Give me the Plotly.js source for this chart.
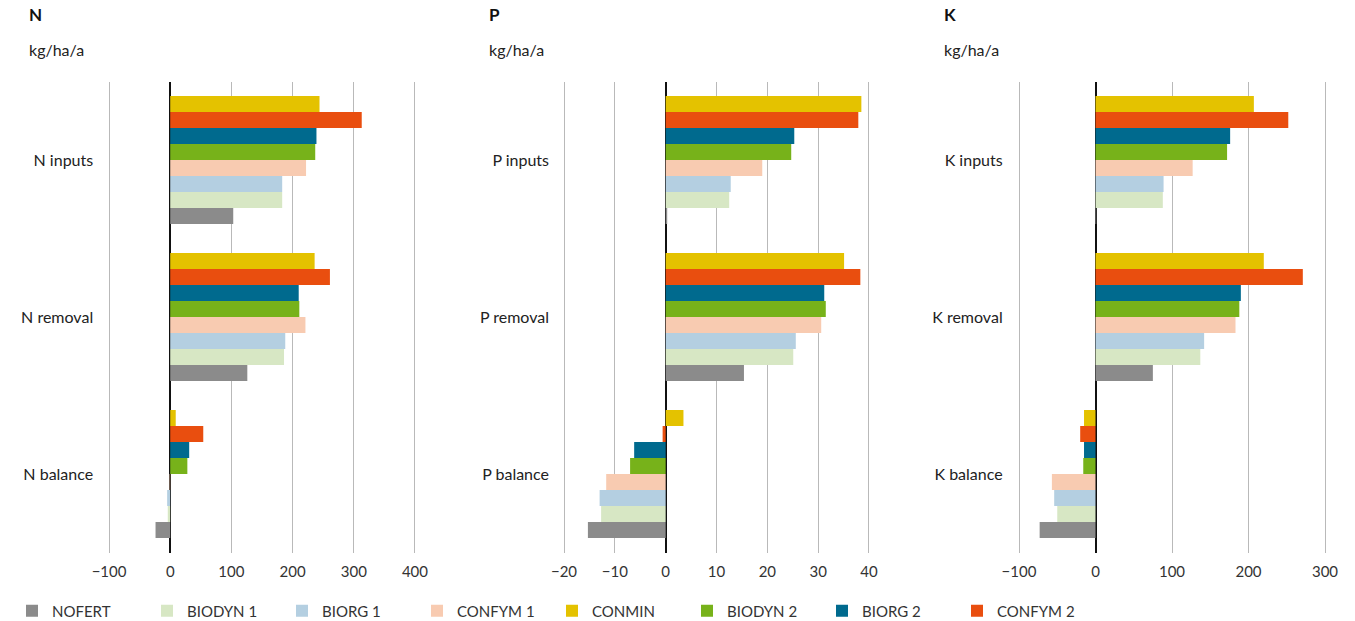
<!DOCTYPE html>
<html>
<head>
<meta charset="utf-8">
<script src="https://cdn.plot.ly/plotly-3.0.1.min.js"></script>
<style>
  html, body { margin: 0; padding: 0; background: #fff; }
  #chart { width: 1355px; height: 621px; }
</style>
</head>
<body>
<div id="chart"></div>
<script>
// Nutrient budgets per treatment, kg/ha/a
const treatments = ['CONMIN', 'CONFYM 2', 'BIORG 2', 'BIODYN 2', 'CONFYM 1', 'BIORG 1', 'BIODYN 1', 'NOFERT'];
const legendOrder = ['NOFERT', 'BIODYN 1', 'BIORG 1', 'CONFYM 1', 'CONMIN', 'BIODYN 2', 'BIORG 2', 'CONFYM 2'];
const colors = {
  'NOFERT': '#8b8b8b',
  'BIODYN 1': '#d7e7c4',
  'BIORG 1': '#b4cfe1',
  'CONFYM 1': '#f8cbb1',
  'CONMIN': '#e4c200',
  'BIODYN 2': '#77b21a',
  'BIORG 2': '#006a8e',
  'CONFYM 2': '#e94e0f'
};

const nCategories = ['N inputs', 'N removal', 'N balance'];
const pCategories = ['P inputs', 'P removal', 'P balance'];
const kCategories = ['K inputs', 'K removal', 'K balance'];

// values per treatment: [inputs, removal, balance]
const nValues = {
  'CONMIN':   [244, 236, 9],
  'CONFYM 2': [313, 261, 54],
  'BIORG 2':  [239, 210, 31],
  'BIODYN 2': [237, 211, 28],
  'CONFYM 1': [222, 221, -1],
  'BIORG 1':  [183, 188, -5],
  'BIODYN 1': [183, 186, -4],
  'NOFERT':   [103, 126, -24]
};
const pValues = {
  'CONMIN':   [38.5, 35.1, 3.5],
  'CONFYM 2': [37.9, 38.3, -0.6],
  'BIORG 2':  [25.3, 31.2, -6.2],
  'BIODYN 2': [24.7, 31.5, -7.0],
  'CONFYM 1': [19.0, 30.6, -11.7],
  'BIORG 1':  [12.8, 25.6, -13.0],
  'BIODYN 1': [12.5, 25.1, -12.7],
  'NOFERT':   [0.3, 15.4, -15.3]
};
const kValues = {
  'CONMIN':   [207, 220, -15],
  'CONFYM 2': [252, 271, -20],
  'BIORG 2':  [176, 190, -15],
  'BIODYN 2': [172, 188, -16],
  'CONFYM 1': [127, 183, -57],
  'BIORG 1':  [89, 142, -54],
  'BIODYN 1': [88, 137, -50],
  'NOFERT':   [1, 75, -73]
};

const W = 1355, H = 621;
const px = x => x / W;
const py = y => 1 - y / H;

const panels = [
  { cats: nCategories, vals: nValues, xa: 'x',  ya: 'y'  },
  { cats: pCategories, vals: pValues, xa: 'x2', ya: 'y2' },
  { cats: kCategories, vals: kValues, xa: 'x3', ya: 'y3' }
];

const traces = [];
panels.forEach((p, pi) => {
  treatments.forEach(t => {
    traces.push({
      type: 'bar',
      orientation: 'h',
      name: t,
      x: p.vals[t],
      y: p.cats,
      xaxis: p.xa,
      yaxis: p.ya,
      marker: { color: colors[t], line: { width: 0 } },
      showlegend: pi === 0,
      legendrank: legendOrder.indexOf(t) + 1,
      hoverinfo: 'x+name'
    });
  });
});

const font = { family: 'Lato, "Open Sans", sans-serif', color: '#222' };
const yDomain = [py(552.5), py(81.5)];

function xAxis(range, dtick, x0, x1) {
  return {
    domain: [px(x0), px(x1)],
    range: range,
    dtick: dtick,
    tick0: 0,
    showgrid: true,
    gridcolor: '#b9b9b9',
    gridwidth: 1,
    zeroline: true,
    zerolinecolor: '#111',
    zerolinewidth: 2,
    showline: false,
    ticks: '',
    ticklabelstandoff: 8,
    tickfont: { size: 15, color: '#333', family: font.family },
    fixedrange: true
  };
}
function yAxis(anchor) {
  return {
    domain: yDomain,
    anchor: anchor,
    type: 'category',
    autorange: 'reversed',
    showgrid: false,
    zeroline: false,
    showline: false,
    ticks: '',
    ticklabelstandoff: 13,
    tickfont: { size: 16, color: '#222', family: font.family },
    fixedrange: true
  };
}

const titles = [
  { t: 'N', x: 28 }, { t: 'P', x: 488 }, { t: 'K', x: 943 }
];
const annotations = [];
titles.forEach(o => {
  annotations.push({
    text: '<b>' + o.t + '</b>', xref: 'paper', yref: 'paper',
    x: px(o.x - 1), y: py(15), xanchor: 'left', yanchor: 'middle',
    showarrow: false, font: { size: 17, color: '#111', family: font.family }
  });
  annotations.push({
    text: 'kg/ha/a', xref: 'paper', yref: 'paper',
    x: px(o.x - 1), y: py(49), xanchor: 'left', yanchor: 'middle',
    showarrow: false, font: { size: 16, color: '#222', family: font.family }
  });
});

const layout = {
  width: W,
  height: H,
  margin: { l: 0, r: 0, t: 0, b: 0, autoexpand: false },
  paper_bgcolor: '#fff',
  plot_bgcolor: '#fff',
  font: font,
  barmode: 'group',
  bargap: 0.185,
  bargroupgap: 0,
  // ranges padded slightly so the outermost gridlines are drawn
  xaxis:  xAxis([-103, 403], 100, 107.2, 416.8),
  xaxis2: xAxis([-20.2, 40.2], 10, 563, 870),
  xaxis3: xAxis([-103, 303], 100, 1016.7, 1327.3),
  yaxis:  yAxis('x'),
  yaxis2: yAxis('x2'),
  yaxis3: yAxis('x3'),
  showlegend: true,
  legend: {
    orientation: 'h',
    x: px(12), y: py(611),
    xanchor: 'left', yanchor: 'middle',
    entrywidth: 90,
    itemwidth: 30,
    font: { size: 15, color: '#333', family: font.family },
    bgcolor: 'rgba(0,0,0,0)'
  },
  annotations: annotations
};

Plotly.newPlot('chart', traces, layout, { displayModeBar: false, staticPlot: true });
</script>
</body>
</html>
